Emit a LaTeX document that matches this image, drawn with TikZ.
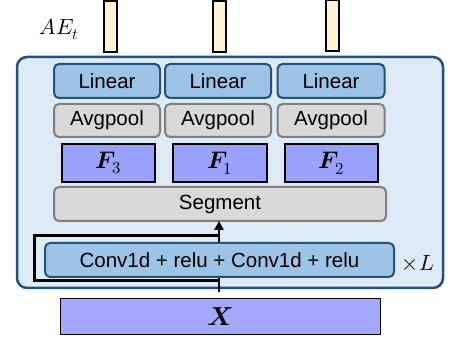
\documentclass[tikz,border=0pt]{standalone}
\usepackage{fontspec}
\usepackage{unicode-math}
\setmainfont{Liberation Sans}
\setmathfont{Latin Modern Math}
\usetikzlibrary{arrows.meta}
\definecolor{outerfill}{HTML}{DEEAF6}
\definecolor{darkblue}{HTML}{24507A}
\definecolor{linfill}{HTML}{9DC3E6}
\definecolor{grayfill}{HTML}{D9D9D9}
\definecolor{grayline}{HTML}{7F7F7F}
\definecolor{ffill}{HTML}{9AA1FA}
\definecolor{xfill}{HTML}{A3A8FD}
\definecolor{barfill}{HTML}{FFF3D6}
\begin{document}
\begin{tikzpicture}[x=1pt,y=-1pt,
  every node/.style={inner sep=0pt,outer sep=0pt,font=\fontsize{20.5}{24}\selectfont},
  mathlabel/.style={font=\fontsize{22}{26}\selectfont},
  linbox/.style={draw=darkblue,line width=2pt,fill=linfill,rounded corners=5pt,minimum height=34pt},
  poolbox/.style={draw=grayline,line width=2pt,fill=grayfill,rounded corners=5pt,minimum height=33pt},
  fbox/.style={draw=black,line width=1.3pt,fill=ffill,minimum height=38pt,font=\fontsize{24}{28}\selectfont},
  barbox/.style={draw=black,line width=1.2pt,fill=barfill,minimum width=13pt,minimum height=51pt}]
\useasboundingbox (0,0) rectangle (453,339);
% outer block
\node[draw=darkblue,line width=2.5pt,fill=outerfill,rounded corners=10pt,
  minimum width=426pt,minimum height=231pt] (outer) at (230,172.5) {};
% bars
\node[barbox] (b1) at (110.5,26.5) {};
\node[barbox] (b2) at (219.5,26.5) {};
\node[barbox] (b3) at (332.5,25.5) {};
\node[mathlabel] (ae) at (59,29) {$AE_t$};
% linear
\node[linbox,minimum width=106pt] (l1) at (107,81) {Linear};
\node[linbox,minimum width=106pt] (l2) at (218,81) {Linear};
\node[linbox,minimum width=107pt] (l3) at (331,81) {Linear};
% avgpool
\node[poolbox,minimum width=106pt] (p1) at (107,120.5) {Avgpool};
\node[poolbox,minimum width=106pt] (p2) at (218,120.5) {Avgpool};
\node[poolbox,minimum width=107pt] (p3) at (331,120.5) {Avgpool};
% F boxes
\node[fbox,minimum width=93pt] (f3) at (108.5,163) {$\symbfit{F}_3$};
\node[fbox,minimum width=94pt] (f1) at (220,163) {$\symbfit{F}_1$};
\node[fbox,minimum width=93pt] (f2) at (331.5,163) {$\symbfit{F}_2$};
% segment
\node[poolbox,minimum width=332pt,minimum height=34pt] (seg) at (220,204) {Segment};
% X
\node[draw=black,line width=1pt,fill=xfill,minimum width=320pt,minimum height=36pt,
  font=\fontsize{26}{30}\selectfont] (x) at (220,317) {$\symbfit{X}$};
% main arrow (behind conv)
\coordinate (segin) at (219,221);
\draw[line width=2.5pt,-{Triangle[length=9pt,width=9pt]},shorten <=7pt] (x.north -| segin) -- (segin);
% residual loop
\coordinate (ra) at (219,236);
\coordinate (rb) at (219,281);
\draw[line width=3pt] (ra) -- (34,236) -- (34,281) -- (rb);
% conv
\node[linbox,minimum width=349pt] (conv) at (219.5,260) {Conv1d + relu + Conv1d + relu};
\node[mathlabel] (xl) at (418,263) {$\times L$};
\end{tikzpicture}
\end{document}
